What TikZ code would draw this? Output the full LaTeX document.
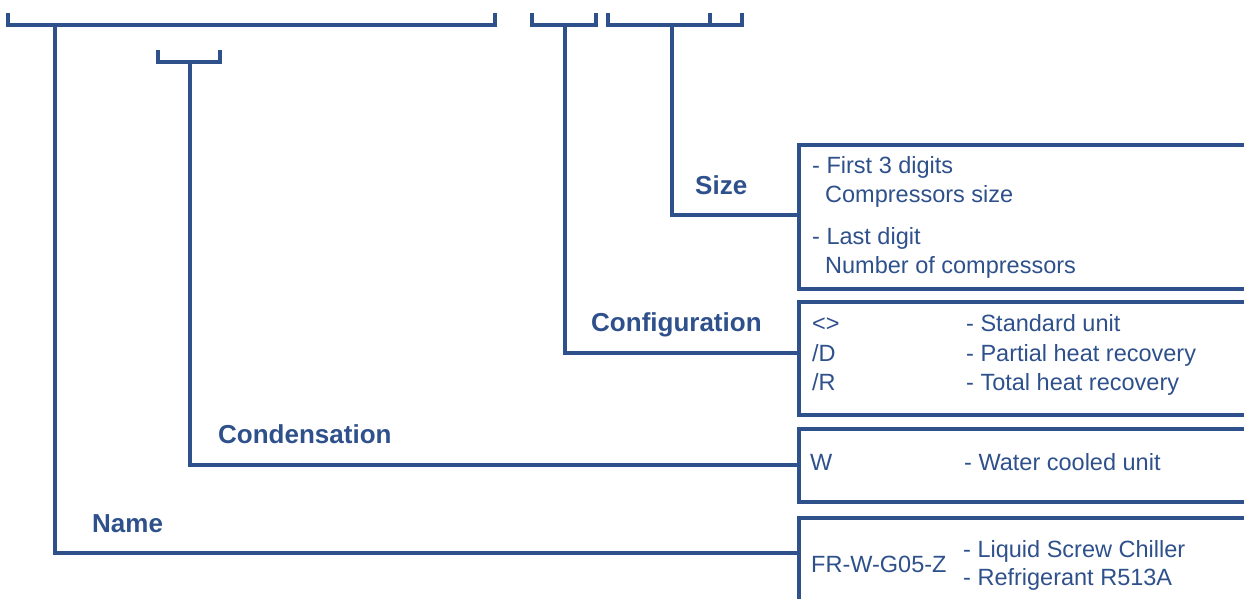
\documentclass[tikz,border=0pt]{standalone}
\usepackage{fontspec}
\setmainfont{Liberation Sans}
\usetikzlibrary{positioning}
\definecolor{codeblue}{RGB}{46,80,139}

\begin{document}
\begin{tikzpicture}[x=1pt, y=-1pt,
    bar/.style={draw=codeblue, line width=4pt},
    wire/.style={draw=codeblue, line width=4pt},
    box/.style={draw=codeblue, line width=3.5pt, anchor=north west,
                minimum width=470pt, inner sep=0pt},
    field/.style={font=\fontsize{26}{30}\selectfont\bfseries, text=codeblue,
                  anchor=base west, inner sep=0pt},
    item/.style={font=\fontsize{23.5}{28}\selectfont, text=codeblue,
                 anchor=base west, inner sep=0pt}
]
\useasboundingbox (0,0) rectangle (1244,599);

% brackets over the code
\draw[bar] (8,13) -- (8,25) -- (495,25) -- (495,13);
\draw[bar] (158,50) -- (158,62) -- (220,62) -- (220,50);
\draw[bar] (532,13) -- (532,25) -- (596,25) -- (596,13);
\draw[bar] (608,13) -- (608,25) -- (742,25) -- (742,13);
\draw[bar] (710,13) -- (710,25);
\coordinate (tapname) at (55,25);
\coordinate (tapcond) at (190,62);
\coordinate (tapcfg) at (565,25);
\coordinate (tapsize) at (672,25);

% boxes
\node[box, minimum height=144pt] (sizebox) at (797,143) {};
\node[box, minimum height=113pt] (cfgbox) at (797,300) {};
\node[box, minimum height=73pt] (condbox) at (797,427) {};
\node[box, minimum height=110pt] (namebox) at (797,516) {};

% field names
\node[field] (sizelbl) at (695,194) {Size};
\node[field] (cfglbl) at (591,331) {Configuration};
\node[field] (condlbl) at (218,443) {Condensation};
\node[field] (namelbl) at (92,532) {Name};

% connectors
\draw[wire] (tapsize) |- ([yshift=2pt]sizebox.west);
\draw[wire] (tapcfg) |- ([yshift=5.5pt]cfgbox.west);
\draw[wire] (tapcond) |- (condbox.west);
\draw[wire] (tapname) |- ([yshift=20pt]namebox.west);

% size entries
\node[item] (sz1) at (812,173) {- First 3 digits};
\node[item] (sz2) at (825,202) {Compressors size};
\node[item] (sz3) at (812,244) {- Last digit};
\node[item] (sz4) at (825,273) {Number of compressors};

% configuration entries
\node[item] (cf1) at (812,331) {<>};
\node[item] (cf1t) at (966,331) {- Standard unit};
\node[item] (cf2) at (812,361) {/D};
\node[item] (cf2t) at (966,361) {- Partial heat recovery};
\node[item] (cf3) at (812,390) {/R};
\node[item] (cf3t) at (966,390) {- Total heat recovery};

% condensation entry
\node[item] (cd1) at (810,470) {W};
\node[item] (cd1t) at (964,470) {- Water cooled unit};

% name entry
\node[item] (nm1) at (811,572) {FR-W-G05-Z};
\node[item] (nm1a) at (963,557) {- Liquid Screw Chiller};
\node[item] (nm1b) at (963,585) {- Refrigerant R513A};
\end{tikzpicture}
\end{document}
